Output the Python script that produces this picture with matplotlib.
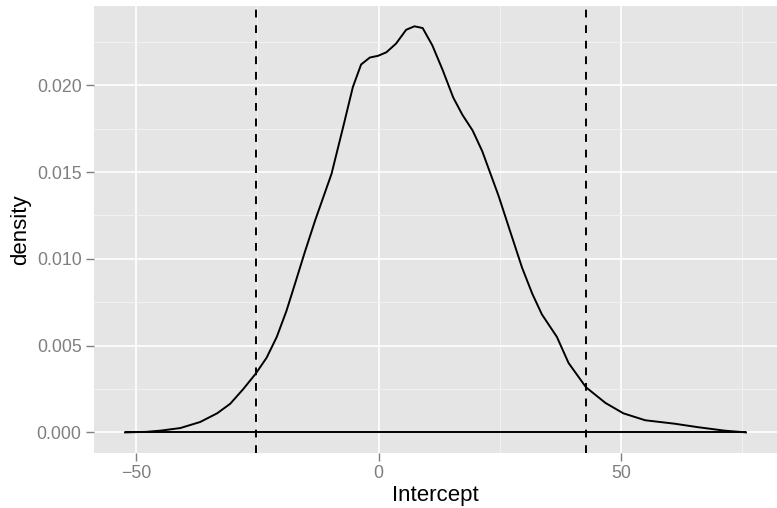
import numpy as np
import matplotlib.pyplot as plt
from matplotlib.ticker import MultipleLocator

plt.rcParams['font.family'] = ['Liberation Sans', 'DejaVu Sans']

# density estimate of the intercept
intercept = [-52.3, -48.0, -45.0, -40.9, -36.8, -33.3, -30.6, -27.9, -25.3, -23.1,
             -21.0, -19.0, -17.2, -15.2, -13.1, -9.7, -7.3, -5.3, -3.6, -1.8,
             -0.1, 1.6, 3.6, 5.7, 7.4, 9.1, 11.1, 13.2, 15.4, 17.3,
             19.4, 21.4, 23.1, 24.8, 26.9, 29.6, 31.7, 33.7, 36.8, 39.2,
             42.8, 46.8, 50.5, 55.0, 61.1, 65.9, 71.4, 75.8]
density = [0.00000, 0.00003, 0.00010, 0.00025, 0.00060, 0.00110, 0.00165, 0.00250, 0.00340, 0.00430,
           0.00550, 0.00700, 0.00860, 0.01040, 0.01220, 0.01490, 0.01760, 0.01990, 0.02120, 0.02160,
           0.02170, 0.02190, 0.02240, 0.02320, 0.02340, 0.02330, 0.02230, 0.02090, 0.01930, 0.01830,
           0.01740, 0.01620, 0.01490, 0.01360, 0.01180, 0.00950, 0.00800, 0.00680, 0.00550, 0.00400,
           0.00260, 0.00170, 0.00110, 0.00070, 0.00050, 0.00030, 0.00010, 0.00000]
# interval bounds (dashed lines)
bounds = [-25.3, 42.9]

fig = plt.figure(figsize=(7.77, 5.08), dpi=100)
ax = fig.add_axes([94/777, 1-452.7/508, 683/777, 446.7/508])
ax.set_facecolor('#E5E5E5')

ax.plot(intercept, density, color='black', lw=1.4, solid_joinstyle='round')
ax.plot([intercept[0], intercept[-1]], [0, 0], color='black', lw=1.4, solid_capstyle='butt')
for b in bounds:
    ax.axvline(b, color='black', lw=1.4, ls=(0, (4, 4)))

span = intercept[-1] - intercept[0]
ax.set_xlim(intercept[0] - 0.05*span, intercept[-1] + 0.05*span)
top = max(density)
ax.set_ylim(-0.05*top, 1.05*top)

ax.xaxis.set_major_locator(MultipleLocator(50))
ax.xaxis.set_minor_locator(MultipleLocator(25))
ax.yaxis.set_major_locator(MultipleLocator(0.005))
ax.yaxis.set_minor_locator(MultipleLocator(0.0025))
ax.grid(which='major', color='white', lw=1.2)
ax.grid(which='minor', color='#F2F2F2', lw=0.7)
ax.set_axisbelow(True)
for s in ax.spines.values():
    s.set_visible(False)

ax.set_xticks([-50, 0, 50])
ax.set_xticklabels(['\u221250', '0', '50'])
ax.set_yticks([0, 0.005, 0.010, 0.015, 0.020])
ax.set_yticklabels(['0.000', '0.005', '0.010', '0.015', '0.020'])
ax.tick_params(which='major', colors='#7F7F7F', length=5.5, width=1, pad=3.5,
               labelsize=12.8, labelcolor='#7F7F7F')
ax.tick_params(which='minor', length=0)

ax.set_xlabel('Intercept', fontsize=16, labelpad=2)
ax.set_ylabel('density', fontsize=16, labelpad=4)

fig.savefig('out.png', dpi=100)
